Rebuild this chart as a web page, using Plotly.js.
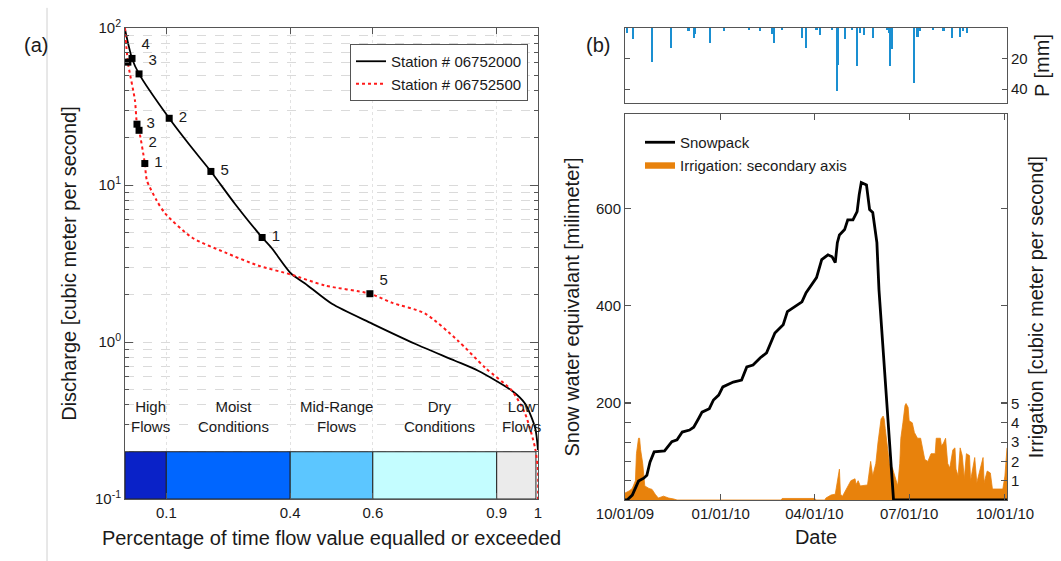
<!DOCTYPE html>
<html>
<head>
<meta charset="utf-8">
<script src="https://cdn.plot.ly/plotly-3.0.1.min.js"></script>
<style>html,body{margin:0;padding:0;background:#fff}#chart{width:1061px;height:561px}</style>
</head>
<body>
<div id="chart"></div>
<script>
// ---------- Panel (a): flow duration curves ----------
const flowX_A = [0, 0.017, 0.034, 0.107, 0.157, 0.208, 0.266, 0.332, 0.356, 0.402, 0.436, 0.501, 0.598, 0.702, 0.799, 0.855, 0.937, 0.969, 0.993, 1.0];
const flowQ_A = [98, 64, 51, 26.6, 17.9, 12.2, 7.6, 4.63, 3.94, 2.73, 2.36, 1.75, 1.31, 0.975, 0.76, 0.656, 0.489, 0.404, 0.284, 0.205];
const flowX_B = [0, 0.007, 0.024, 0.029, 0.034, 0.048, 0.053, 0.077, 0.097, 0.162, 0.242, 0.322, 0.402, 0.484, 0.593, 0.646, 0.726, 0.806, 0.872, 0.937, 0.969, 0.993, 1.0, 1.0];
const flowQ_B = [100, 60.6, 34.7, 24.4, 22.3, 13.7, 10.7, 7.95, 6.6, 4.63, 3.72, 3.07, 2.69, 2.29, 2.03, 1.78, 1.52, 1.02, 0.686, 0.489, 0.348, 0.211, 0.151, 0.1];
const markA_x = [0.017, 0.034, 0.107, 0.208, 0.332];
const markA_q = [64, 51, 26.6, 12.2, 4.63];
const markA_lbl = ['4', '3', '2', '5', '1'];
const markB_x = [0.007, 0.029, 0.034, 0.048, 0.593];
const markB_q = [60.6, 24.4, 22.3, 13.7, 2.03];
const markB_lbl = ['', '3', '2', '1', '5'];
const stationNames = ['Station # 06752000', 'Station # 06752500'];
const zoneEdges = [0, 0.1, 0.4, 0.6, 0.9, 0.995];
const zoneLabels = ['High<br>Flows', 'Moist<br>Conditions', 'Mid-Range<br>Flows', 'Dry<br>Conditions', 'Low<br>Flows'];
const zoneColors = ['#0a22c8', '#0066ff', '#5cc6ff', '#c4fdff', '#ebebeb'];
const zoneBarBottom = 0.1;
const zoneBarTop = 0.2;
const xTickVals = [0.1, 0.4, 0.6, 0.9, 1];
const xTickText = ['0.1', '0.4', '0.6', '0.9', '1'];

// ---------- Panel (b): precipitation, snowpack, irrigation ----------
const precipDates = ['2009-10-03','2009-10-09','2009-10-27','2009-11-14','2009-12-01','2009-12-06','2009-12-07','2009-12-22','2010-01-04','2010-01-28','2010-02-08','2010-02-19','2010-02-21','2010-03-01','2010-03-20','2010-03-24','2010-04-03','2010-04-06','2010-04-18','2010-04-23','2010-04-24','2010-04-30','2010-05-07','2010-05-12','2010-05-15','2010-05-19','2010-05-27','2010-06-10','2010-06-12','2010-06-13','2010-06-14','2010-07-06','2010-07-09','2010-07-11','2010-07-24','2010-08-03','2010-08-11','2010-08-19','2010-08-22','2010-08-26'];
const precipMM = [3, 7.5, 22, 13, 2, 6.5, 4, 10, 2, 1, 2, 4, 10, 1, 6.5, 13, 1, 4.5, 1.3, 41, 24, 7, 1, 24.5, 3, 4.5, 6.5, 1, 3, 25, 14, 36, 6, 2, 1, 2, 6.5, 6, 2, 3];

const snowDates = ['2009-10-01','2009-10-03','2009-10-08','2009-10-11','2009-10-14','2009-10-19','2009-10-22','2009-10-25','2009-10-29','2009-11-08','2009-11-15','2009-11-20','2009-11-25','2009-12-02','2009-12-06','2009-12-11','2009-12-14','2009-12-21','2009-12-25','2009-12-30','2010-01-03','2010-01-13','2010-01-21','2010-01-26','2010-02-01','2010-02-08','2010-02-14','2010-02-22','2010-03-02','2010-03-06','2010-03-15','2010-03-20','2010-03-24','2010-03-29','2010-04-03','2010-04-08','2010-04-14','2010-04-18','2010-04-21','2010-04-23','2010-04-25','2010-04-30','2010-05-03','2010-05-08','2010-05-12','2010-05-14','2010-05-16','2010-05-21','2010-05-24','2010-05-27','2010-05-31','2010-06-02','2010-06-05','2010-06-08','2010-06-11','2010-06-14','2010-06-16','2010-10-03'];
const snowMM = [0, 0, 10, 25, 39, 45, 51, 78, 99, 101, 120, 124, 140, 144, 150, 169, 181, 188, 206, 216, 233, 243, 247, 274, 278, 293, 303, 344, 361, 388, 402, 408, 427, 443, 458, 495, 505, 501, 489, 530, 546, 557, 577, 577, 594, 629, 654, 649, 598, 592, 530, 433, 340, 247, 155, 62, 0, 0];

const irrDates = ['2009-10-01','2009-10-05','2009-10-08','2009-10-11','2009-10-12','2009-10-14','2009-10-15','2009-10-16','2009-10-18','2009-10-19','2009-10-20','2009-10-24','2009-10-27','2009-10-30','2009-11-02','2009-11-07','2009-11-12','2009-11-17','2009-11-20','2010-02-28','2010-03-01','2010-04-01','2010-04-03','2010-04-11','2010-04-12','2010-04-17','2010-04-21','2010-04-25','2010-04-26','2010-04-28','2010-05-03','2010-05-06','2010-05-10','2010-05-11','2010-05-13','2010-05-15','2010-05-22','2010-05-25','2010-05-27','2010-05-30','2010-06-01','2010-06-03','2010-06-04','2010-06-06','2010-06-07','2010-06-08','2010-06-12','2010-06-15','2010-06-18','2010-06-20','2010-06-22','2010-06-23','2010-06-25','2010-06-27','2010-06-28','2010-06-30','2010-07-01','2010-07-04','2010-07-06','2010-07-09','2010-07-12','2010-07-16','2010-07-19','2010-07-22','2010-07-26','2010-07-27','2010-07-31','2010-08-01','2010-08-03','2010-08-05','2010-08-07','2010-08-09','2010-08-12','2010-08-14','2010-08-15','2010-08-17','2010-08-19','2010-08-21','2010-08-23','2010-08-25','2010-08-28','2010-08-29','2010-09-02','2010-09-04','2010-09-10','2010-09-11','2010-09-14','2010-09-17','2010-09-19','2010-09-24','2010-09-29','2010-10-01','2010-10-03'];
const irrCMS = [0.36, 0.47, 0.6, 1.0, 2.4, 3.2, 3.2, 2.6, 1.9, 1.1, 0.73, 0.6, 0.55, 0.3, 0.1, 0.2, 0.1, 0.05, 0, 0, 0.08, 0.08, 0, 0, 0.1, 0.26, 0.3, 1.6, 0.3, 0.2, 0.73, 1.0, 1.1, 0.8, 1.0, 0.73, 0.78, 2.0, 1.24, 1.9, 2.95, 3.7, 4.2, 4.35, 4.2, 3.7, 1.9, 1.65, 1.14, 0.73, 1.9, 3.2, 4.0, 4.9, 5.0, 4.8, 4.1, 4.0, 3.5, 3.2, 3.2, 2.1, 2.0, 2.4, 2.4, 3.2, 3.2, 2.8, 2.95, 3.2, 1.9, 1.65, 2.6, 2.7, 1.6, 1.24, 2.7, 2.3, 1.1, 2.4, 2.3, 1.0, 2.2, 0.9, 2.2, 0.9, 1.5, 1.4, 0.57, 0.57, 0.57, 1.24, 2.7];
const dateTicks = ['2009-10-01', '2010-01-01', '2010-04-01', '2010-07-01', '2010-10-01'];

// ---------- styling ----------
const FONT = 'Liberation Sans, Arial, sans-serif';
const TXT = '#1a1a1a';
const AXC = '#555';
const DAY = 86400000;

const minorLog = [];
for (let e = -1; e <= 1; e++) for (let m = 2; m <= 9; m++) minorLog.push(m * Math.pow(10, e));

const zoneCenters = zoneColors.map((c, i) => (zoneEdges[i] + zoneEdges[i + 1]) / 2);
const zoneWidths = zoneColors.map((c, i) => zoneEdges[i + 1] - zoneEdges[i]);

const traces = [
  {x: zoneCenters, y: zoneCenters.map(() => zoneBarTop - zoneBarBottom), base: zoneCenters.map(() => zoneBarBottom),
   width: zoneWidths, type: 'bar', marker: {color: zoneColors, line: {color: '#222', width: 1}},
   showlegend: false, xaxis: 'x', yaxis: 'y'},
  {x: flowX_A, y: flowQ_A, type: 'scatter', mode: 'lines', name: stationNames[0],
   line: {color: '#000', width: 1.8, shape: 'spline', smoothing: 0.7}, xaxis: 'x', yaxis: 'y', legend: 'legend'},
  {x: flowX_B, y: flowQ_B, type: 'scatter', mode: 'lines', name: stationNames[1],
   line: {color: '#ff1a1a', width: 2, dash: 'dot', shape: 'spline', smoothing: 0.7}, xaxis: 'x', yaxis: 'y', legend: 'legend'},
  {x: markA_x, y: markA_q, text: markA_lbl.map(s => s ? ' ' + s : ''), type: 'scatter', mode: 'markers+text',
   marker: {symbol: 'square', size: 7, color: '#000'}, showlegend: false,
   textposition: ['top right', 'top right', 'middle right', 'middle right', 'middle right'],
   textfont: {family: FONT, size: 15, color: TXT}, xaxis: 'x', yaxis: 'y'},
  {x: markB_x, y: markB_q, text: markB_lbl.map(s => s ? ' ' + s : ''), type: 'scatter', mode: 'markers+text',
   marker: {symbol: 'square', size: 7, color: '#000'}, showlegend: false,
   textposition: ['top right', 'middle right', 'bottom right', 'middle right', 'top right'],
   textfont: {family: FONT, size: 15, color: TXT}, xaxis: 'x', yaxis: 'y'},
  {x: precipDates, y: precipMM, type: 'bar', width: DAY * 2, marker: {color: '#1a8fd1', line: {width: 0}},
   showlegend: false, xaxis: 'x3', yaxis: 'y4'},
  {x: irrDates, y: irrCMS, type: 'scatter', mode: 'lines', fill: 'tozeroy', name: 'Irrigation: secondary axis',
   fillcolor: '#e8820c', line: {color: '#e8820c', width: 0.8}, xaxis: 'x2', yaxis: 'y2', legend: 'legend2', legendrank: 2},
  {x: snowDates, y: snowMM, type: 'scatter', mode: 'lines', name: 'Snowpack',
   line: {color: '#000', width: 2.8}, xaxis: 'x2', yaxis: 'y3', legend: 'legend2', legendrank: 1}
];

const shapes = [];
const annotations = [];
for (let i = 0; i < zoneLabels.length; i++) {
  annotations.push({xref: 'x', yref: 'y', x: zoneCenters[i] + 0.012, y: Math.log10(0.333),
    text: zoneLabels[i], showarrow: false, font: {family: FONT, size: 15, color: TXT}, align: 'center'});
}
shapes.push({type: 'line', xref: 'paper', yref: 'paper', x0: 47 / 1061, x1: 47 / 1061, y0: 0, y1: 0.986,
  line: {color: '#d0d0d0', width: 1}});
annotations.push({xref: 'paper', yref: 'paper', x: 22 / 1061, y: 1 - 32 / 561, text: '(a)', showarrow: false,
  font: {family: FONT, size: 20, color: TXT}});
annotations.push({xref: 'paper', yref: 'paper', x: 598 / 1061, y: 1 - 32 / 561, text: '(b)', showarrow: false,
  font: {family: FONT, size: 20, color: TXT}});

const tickFont = {family: FONT, size: 15, color: TXT};
const titleFont = {family: FONT, size: 20, color: TXT};

const layout = {
  width: 1061, height: 561, margin: {l: 0, r: 0, t: 0, b: 0},
  paper_bgcolor: '#fff', plot_bgcolor: '#fff', showlegend: true, hovermode: false,
  font: {family: FONT, color: TXT}, barmode: 'overlay',
  xaxis: {domain: [125 / 1061, 538 / 1061], anchor: 'y', range: [0, 1], tickvals: xTickVals, ticktext: xTickText,
    ticks: 'inside', ticklen: 6, tickcolor: AXC, showline: true, linecolor: AXC, mirror: 'ticks',
    showgrid: true, gridcolor: '#e2e2e2', griddash: 'dot', zeroline: false, tickfont: tickFont, automargin: false,
    title: {text: 'Percentage of time flow value equalled or exceeded', font: titleFont, standoff: 10}},
  yaxis: {domain: [1 - 499 / 561, 1 - 28 / 561], anchor: 'x', type: 'log', range: [-1, 2],
    tickvals: [0.1, 1, 10, 100], ticktext: ['10<sup>-1</sup>', '10<sup>0</sup>', '10<sup>1</sup>', '10<sup>2</sup>'],
    ticks: 'inside', ticklen: 8, tickcolor: AXC, showline: true, linecolor: AXC, mirror: 'ticks',
    showgrid: true, gridcolor: '#dadada', griddash: 'dash', zeroline: false, tickfont: tickFont, automargin: false,
    minor: {tickvals: minorLog, ticks: 'inside', ticklen: 4, tickcolor: AXC, showgrid: true, gridcolor: '#dadada', griddash: 'dash'},
    title: {text: 'Discharge [cubic meter per second]', font: titleFont, standoff: 12}},
  xaxis2: {domain: [625 / 1061, 1007 / 1061], anchor: 'y2', type: 'date', range: ['2009-10-01', '2010-10-03'],
    tickvals: dateTicks, tickformat: '%m/%d/%y', ticks: 'inside', ticklen: 6, tickcolor: AXC,
    showline: true, linecolor: AXC, mirror: 'ticks', showgrid: false, zeroline: false, tickfont: tickFont, automargin: false,
    title: {text: 'Date', font: titleFont, standoff: 8}},
  yaxis2: {domain: [1 - 500 / 561, 1 - 114 / 561], anchor: 'x2', side: 'right', range: [0, 20],
    tickvals: [1, 2, 3, 4, 5], ticks: 'inside', ticklen: 6, tickcolor: AXC, showline: true, linecolor: AXC,
    mirror: 'ticks', showgrid: false, zeroline: false, tickfont: tickFont, automargin: false,
    title: {text: 'Irrigation [cubic meter per second]', font: titleFont, standoff: 10}},
  yaxis3: {overlaying: 'y2', anchor: 'x2', side: 'left', range: [0, 795], tickvals: [200, 400, 600],
    ticks: 'inside', ticklen: 6, tickcolor: AXC, showline: true, linecolor: AXC, mirror: 'ticks',
    showgrid: false, zeroline: false, tickfont: tickFont, automargin: false,
    title: {text: 'Snow water equivalant [milimeter]', font: titleFont, standoff: 10}},
  xaxis3: {domain: [625 / 1061, 1007 / 1061], anchor: 'y4', matches: 'x2', type: 'date', showticklabels: false,
    ticks: '', showline: true, linecolor: AXC, mirror: true, showgrid: false, zeroline: false, automargin: false},
  yaxis4: {domain: [1 - 103 / 561, 1 - 28 / 561], anchor: 'x3', side: 'right', range: [49, 0], tickvals: [20, 40],
    ticks: 'inside', ticklen: 5, tickcolor: AXC, showline: true, linecolor: AXC, mirror: 'ticks',
    showgrid: false, zeroline: false, tickfont: tickFont, automargin: false,
    title: {text: 'P [mm]', font: titleFont, standoff: 8}},
  legend: {x: 528 / 1061, xanchor: 'right', y: 1 - 44 / 561, yanchor: 'top', bgcolor: '#fff',
    bordercolor: '#555', borderwidth: 1, font: {family: FONT, size: 15, color: TXT}},
  legend2: {x: 640 / 1061, xanchor: 'left', y: 1 - 126 / 561, yanchor: 'top', bgcolor: 'rgba(0,0,0,0)',
    borderwidth: 0, font: {family: FONT, size: 15, color: TXT}, tracegroupgap: 0},
  shapes: shapes,
  annotations: annotations,
  bargap: 0
};

Plotly.newPlot('chart', traces, layout, {staticPlot: true, displayModeBar: false});
</script>
</body>
</html>
